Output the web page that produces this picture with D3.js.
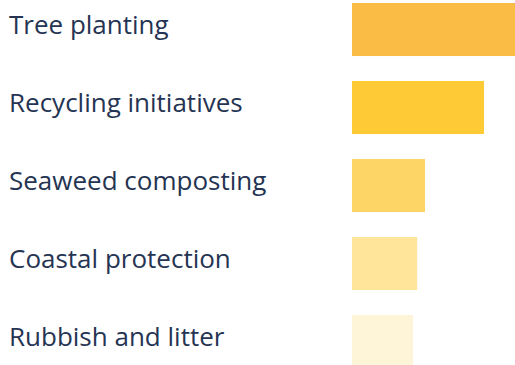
<!DOCTYPE html>
<html>
<head>
<meta charset="utf-8">
<script src="https://cdn.jsdelivr.net/npm/d3@7"></script>
<style>
  html, body { margin: 0; padding: 0; background: #fff; }
  svg { display: block; }
</style>
</head>
<body>
<svg id="chart"></svg>
<script>
// Data
const categories = ['Tree planting', 'Recycling initiatives', 'Seaweed composting', 'Coastal protection', 'Rubbish and litter'];
const values = [50, 40.5, 22.4, 20, 18.7];
const colors = ['#fbbc45', '#fecb37', '#fdd566', '#fee599', '#fef4d7'];

const width = 515;
const height = 365;

const svg = d3.select('#chart')
    .attr('width', width)
    .attr('height', height);

// Scales
const x = d3.scaleLinear()
    .domain([0, 50])
    .range([352, 515]);

const y = d3.scaleBand()
    .domain(categories)
    .range([3, 368])
    .paddingInner(0.32)
    .paddingOuter(0);

// Bars
svg.selectAll('rect')
    .data(categories)
    .enter()
    .append('rect')
    .attr('x', x(0))
    .attr('y', d => y(d))
    .attr('width', (d, i) => x(values[i]) - x(0))
    .attr('height', y.bandwidth())
    .attr('fill', (d, i) => colors[i]);

// Labels
svg.selectAll('text')
    .data(categories)
    .enter()
    .append('text')
    .attr('x', 9)
    .attr('y', d => y(d) + y.bandwidth() / 2 - 2)
    .attr('dominant-baseline', 'middle')
    .attr('font-family', '"Open Sans", sans-serif')
    .attr('font-size', 26)
    .attr('fill', '#253452')
    .text(d => d);
</script>
</body>
</html>
